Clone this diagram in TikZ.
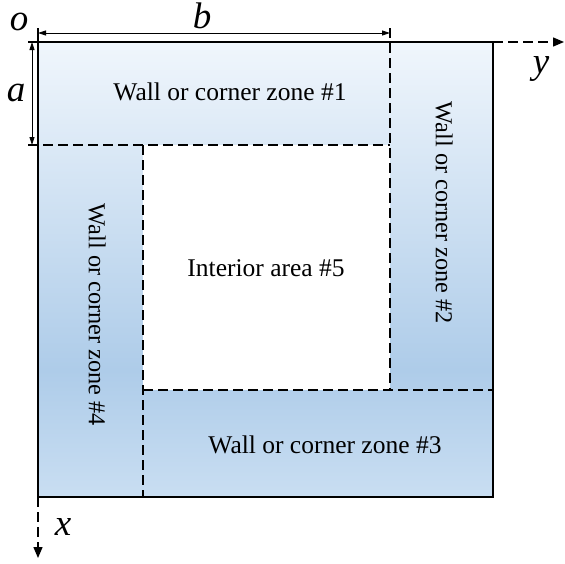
\documentclass[tikz,border=0pt]{standalone}
\usepackage{fontspec}
\setmainfont{Liberation Serif}
\usetikzlibrary{arrows.meta}
\definecolor{gtop}{HTML}{F0F6FC}
\definecolor{gmid}{HTML}{AECCE9}
\definecolor{gbot}{HTML}{C9DEF2}
\pgfdeclareverticalshading{zoneshade}{100bp}{color(0bp)=(gbot); color(25bp)=(gbot); color(39bp)=(gmid); color(75bp)=(gtop); color(100bp)=(gtop)}
\begin{document}
\begin{tikzpicture}[x=1pt,y=-1pt,
  zonetext/.style={font=\fontsize{25.5}{28}\selectfont, inner sep=0pt},
  vzonetext/.style={font=\fontsize{24.3}{27}\selectfont, inner sep=0pt, rotate=-90},
  mathlbl/.style={font=\fontsize{37}{39}\selectfont\itshape, inner sep=0pt},
  dashln/.style={line width=1.4pt, dash pattern=on 10pt off 5pt},
  solidln/.style={line width=1.4pt},
  dimarrow/.style={line width=0.9pt, {Triangle[length=8pt,width=5pt]}-{Triangle[length=8pt,width=5pt]}},
  axisarrow/.style={dashln, -{Triangle[length=11pt,width=9pt]}}]
\useasboundingbox (0,0) rectangle (565,563);
% corner coordinates
\coordinate (O) at (38,42);
\coordinate (TR) at (493,42);
\coordinate (BL) at (38,497);
\coordinate (BR) at (493,497);
\coordinate (I1) at (143,145);
\coordinate (I2) at (390,390);
% shaded square and white interior
\shade[shading=zoneshade] (O) rectangle (BR);
\fill[white] (I1) rectangle (I2);
\draw[solidln] (O) rectangle (BR);
% dashed zone borders
\coordinate (dA) at (28,145);
\coordinate (dB) at (390,145);
\coordinate (dC) at (390,28);
\coordinate (dD) at (143,390);
\coordinate (dE) at (493,390);
\coordinate (dF) at (143,497);
\draw[dashln] (dA) -- (dB);
\draw[dashln] (dC) -- (I2);
\draw[dashln] (dD) -- (dE);
\draw[dashln] (I1) -- (dF);
% axes
\coordinate (yend) at (564,42);
\coordinate (xend) at (38,558);
\draw[axisarrow] (TR) -- (yend);
\draw[axisarrow] (BL) -- (xend);
% origin tick
\coordinate (otick) at (38,28);
\coordinate (atick) at (28,42);
\draw[line width=1.1pt] (otick) -- (O);
\draw[line width=1.1pt] (atick) -- (O);
% dimension arrows
\coordinate (b1) at (38,33);
\coordinate (b2) at (390,33);
\coordinate (a1) at (32,42);
\coordinate (a2) at (32,145);
\draw[dimarrow] (b1) -- (b2);
\draw[dimarrow] (a1) -- (a2);
% labels
\node[mathlbl] (lo) at (19,22) {o};
\node[mathlbl] (lb) at (202,16) {b};
\node[mathlbl] (la) at (16,93) {a};
\node[mathlbl] (ly) at (541,69) {y};
\node[mathlbl] (lx) at (63,527) {x};
% zone texts
\node[zonetext] (z1) at (230,92) {Wall or corner zone \#1};
\node[vzonetext] (z2) at (444,213) {Wall or corner zone \#2};
\node[zonetext] (z3) at (325,445) {Wall or corner zone \#3};
\node[vzonetext] (z4) at (97,315) {Wall or corner zone \#4};
\node[zonetext] (z5) at (266,268) {Interior area \#5};
\end{tikzpicture}
\end{document}
